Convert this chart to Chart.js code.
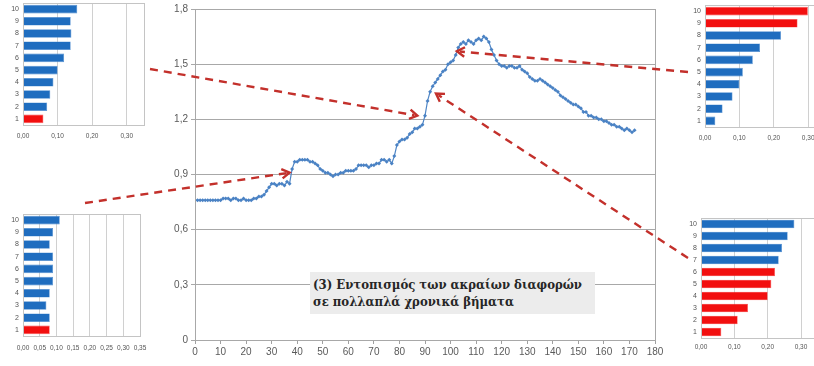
<!DOCTYPE html>
<html><head><meta charset="utf-8">
<script src="https://cdn.jsdelivr.net/npm/chart.js@4/dist/chart.umd.min.js"></script>
<style>
html,body{margin:0;padding:0;background:#fff;width:814px;height:366px;overflow:hidden;}
body{position:relative;}
canvas{position:absolute;display:block;}
#note{position:absolute;left:310px;top:272px;width:285px;height:42px;background:#ececec;font:bold 13px "DejaVu Serif Condensed","DejaVu Serif",serif;color:#262626;padding:4px 0 0 3px;box-sizing:border-box;line-height:17px;white-space:nowrap;}
</style></head><body>
<canvas id="main" width="814" height="366" style="left:0;top:0"></canvas>
<div id="note">(3) Εντοπισμός των ακραίων διαφορών<br>σε πολλαπλά χρονικά βήματα</div>
<canvas id="tl" width="150" height="147" style="left:0;top:0"></canvas>
<canvas id="tr" width="150" height="150" style="left:680px;top:0"></canvas>
<canvas id="bl" width="150" height="161" style="left:0;top:205px"></canvas>
<canvas id="br" width="150" height="156" style="left:680px;top:210px"></canvas>
<script>
// ---- main series (value per time step 0..172) ----
const mainValues = [
0.76,0.76,0.76,0.76,0.76,0.76,0.76,0.76,0.76,0.76,
0.76,0.77,0.77,0.77,0.76,0.77,0.77,0.76,0.76,0.77,
0.76,0.76,0.76,0.77,0.77,0.78,0.78,0.79,0.81,0.83,
0.85,0.85,0.84,0.85,0.85,0.84,0.86,0.85,0.93,0.97,
0.97,0.98,0.98,0.98,0.98,0.97,0.97,0.96,0.95,0.93,
0.92,0.91,0.91,0.90,0.89,0.90,0.90,0.91,0.91,0.92,
0.92,0.92,0.92,0.93,0.95,0.95,0.95,0.95,0.94,0.95,
0.95,0.96,0.96,0.98,0.98,0.97,0.98,0.96,1.00,1.06,
1.08,1.09,1.09,1.10,1.12,1.13,1.15,1.15,1.16,1.17,
1.22,1.30,1.35,1.38,1.40,1.42,1.44,1.46,1.47,1.50,
1.51,1.52,1.55,1.59,1.61,1.62,1.61,1.63,1.62,1.61,
1.63,1.64,1.63,1.65,1.64,1.62,1.58,1.55,1.52,1.50,
1.49,1.49,1.48,1.49,1.49,1.48,1.48,1.49,1.47,1.46,
1.45,1.43,1.42,1.41,1.41,1.42,1.41,1.40,1.39,1.38,
1.37,1.36,1.35,1.33,1.32,1.31,1.30,1.29,1.28,1.28,
1.27,1.26,1.24,1.24,1.22,1.22,1.21,1.21,1.20,1.20,
1.19,1.19,1.18,1.17,1.17,1.16,1.16,1.15,1.14,1.15,
1.14,1.13,1.14];
const mainXTicks = [0,10,20,30,40,50,60,70,80,90,100,110,120,130,140,150,160,170,180];
const mainYTicks = [0,0.3,0.6,0.9,1.2,1.5,1.8];

// ---- inset bar charts (categories 1..10) ----
const insetCategories = ['1','2','3','4','5','6','7','8','9','10'];
const tlValues = [0.059,0.070,0.079,0.088,0.100,0.119,0.138,0.140,0.138,0.157];
const tlRed    = [1,0,0,0,0,0,0,0,0,0];
const trValues = [0.030,0.051,0.080,0.100,0.110,0.139,0.160,0.221,0.269,0.299];
const trRed    = [0,0,0,0,0,0,0,0,1,1];
const blValues = [0.080,0.080,0.070,0.080,0.090,0.090,0.090,0.080,0.090,0.110];
const blRed    = [1,0,0,0,0,0,0,0,0,0];
const brValues = [0.061,0.110,0.141,0.200,0.211,0.222,0.233,0.243,0.260,0.280];
const brRed    = [1,1,1,1,1,1,0,0,0,0];
const insetTicksA = [0,0.1,0.2,0.3];
const insetTicksB = [0,0.05,0.1,0.15,0.2,0.25,0.3,0.35];

// arrows: head in main-chart data coords, tail next to an inset
const arrowHeads = [[87,1.22],[37,0.91],[102.5,1.57],[94.3,1.34]];
const arrowTails = [[150,69],[85,203],[688,72],[688,258]];

const FONT = '"Liberation Sans Narrow","Liberation Sans",Arial,sans-serif';
const BLUE = '#1f6dbf', RED = '#f20f0f';

function comma(v, d){ return v.toFixed(d).replace('.', ','); }
function zeroPad(s){ s.paddingLeft=0; s.paddingRight=0; s.paddingTop=0; s.paddingBottom=0; }

const boxPlugin = {
  id:'box',
  afterDatasetsDraw(chart, args, opts){
    const a = chart.chartArea, c = chart.ctx;
    c.save(); c.strokeStyle = opts.color || '#b0b0b0'; c.lineWidth = 1;
    c.strokeRect(Math.round(a.left)+0.5, Math.round(a.top)+0.5, Math.round(a.right-a.left), Math.round(a.bottom-a.top));
    c.restore();
  }
};

const arrowPlugin = {
  id:'arrows',
  afterDraw(chart){
    const c = chart.ctx, xs = chart.scales.x, ys = chart.scales.y;
    c.save();
    c.strokeStyle = '#c3302b'; c.lineWidth = 2.4; c.lineCap = 'butt';
    arrowHeads.forEach((h, i) => {
      const hx = xs.getPixelForValue(h[0]), hy = ys.getPixelForValue(h[1]);
      const [tx, ty] = arrowTails[i];
      const ang = Math.atan2(hy-ty, hx-tx);
      c.setLineDash([8,6]);
      c.beginPath(); c.moveTo(tx, ty); c.lineTo(hx - 3*Math.cos(ang), hy - 3*Math.sin(ang)); c.stroke();
      c.setLineDash([]);
      const L = 9, w = 0.55;
      c.beginPath();
      c.moveTo(hx - L*Math.cos(ang-w), hy - L*Math.sin(ang-w));
      c.lineTo(hx, hy);
      c.lineTo(hx - L*Math.cos(ang+w), hy - L*Math.sin(ang+w));
      c.stroke();
    });
    c.restore();
  }
};

new Chart(document.getElementById('main'), {
  type:'line',
  data:{datasets:[{
    data: mainValues.map((v,i)=>({x:i, y:v})),
    borderColor:'#4f86c6', backgroundColor:'#4a82c4', borderWidth:1.2,
    pointStyle:'rectRot', pointRadius:2, pointBorderWidth:0, tension:0
  }]},
  options:{
    responsive:false, animation:false, events:[],
    layout:{padding:{left:165, right:159, top:9, bottom:0}},
    plugins:{legend:{display:false}, tooltip:{enabled:false}, box:{color:'#a8a8a8'}},
    scales:{
      x:{type:'linear', min:0, max:180,
        afterBuildTicks:s=>{ s.ticks = mainXTicks.map(v=>({value:v})); },
        afterFit:s=>{ s.height = 26; zeroPad(s); },
        grid:{drawOnChartArea:false, color:'#a0a0a0', tickLength:4},
        border:{color:'#a0a0a0'},
        ticks:{font:{size:10, family:FONT}, color:'#5a5a5a', padding:2, maxRotation:0, autoSkip:false}},
      y:{min:0, max:1.8,
        afterBuildTicks:s=>{ s.ticks = mainYTicks.map(v=>({value:v})); },
        afterFit:s=>{ s.width = 30; zeroPad(s); },
        grid:{color:'#a8a8a8', tickLength:4},
        border:{color:'#c0c0c0'},
        ticks:{font:{size:10, family:FONT}, color:'#5a5a5a', padding:3,
          callback:v=> v===0 ? '0' : comma(v,1)}}
    }
  },
  plugins:[boxPlugin, arrowPlugin]
});

function inset(id, values, red, max, ticks, cfg){
  new Chart(document.getElementById(id), {
    type:'bar',
    data:{labels:insetCategories, datasets:[{
      data:values,
      backgroundColor: red.map(r => r ? RED : BLUE),
      borderColor: red.map(r => r ? '#ff5050' : '#4a8ad0'), borderWidth:0.6,
      categoryPercentage:0.82, barPercentage:0.86
    }]},
    options:{
      indexAxis:'y', responsive:false, animation:false, events:[],
      layout:{padding:{left:0, right:cfg.right, top:cfg.top, bottom:0}},
      plugins:{legend:{display:false}, tooltip:{enabled:false}, box:{color:'#c4c4c4'}},
      scales:{
        x:{min:0, max:max,
          afterBuildTicks:s=>{ s.ticks = ticks.map(v=>({value:v})); },
          afterFit:s=>{ s.height = cfg.xh; zeroPad(s); },
          grid:{color:'#d0d0d0', drawTicks:false},
          border:{display:false},
          ticks:{font:{size:6.5, family:FONT}, color:'#555', padding:cfg.tp, maxRotation:0, autoSkip:false,
            callback:v=>comma(v,2)}},
        y:{reverse:true,
          afterFit:s=>{ s.width = cfg.yw; zeroPad(s); },
          grid:{display:false, drawTicks:false},
          border:{color:'#c4c4c4'},
          ticks:{font:{size:7, family:FONT}, color:'#555', padding:4, autoSkip:false}}
      }
    },
    plugins:[boxPlugin]
  });
}
inset('tl', tlValues, tlRed, 0.35, insetTicksA, {right:6, top:3, xh:22, yw:23, tp:7});
inset('tr', trValues, trRed, 0.35, insetTicksA, {right:4.6, top:5, xh:23, yw:25, tp:7});
inset('bl', blValues, blRed, 0.35, insetTicksB, {right:10, top:9, xh:30, yw:23, tp:8});
inset('br', brValues, brRed, 0.35, insetTicksA, {right:12.3, top:8, xh:28, yw:21, tp:5});
</script>
</body></html>
